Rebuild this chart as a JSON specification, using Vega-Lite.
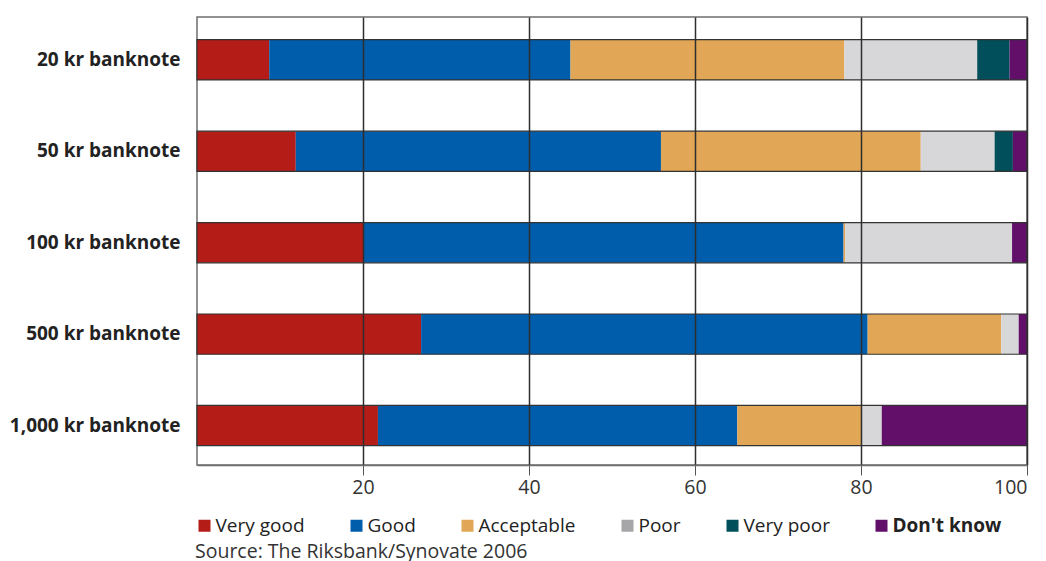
{
  "$schema": "https://vega.github.io/schema/vega-lite/v6.json",
  "width": 830,
  "height": 448,
  "autosize": {"type": "none"},
  "padding": {"left": 197, "top": 17, "right": 19, "bottom": 96},
  "background": "white",
  "config": {
    "font": "Open Sans",
    "view": {"stroke": "#6e6e6e", "strokeWidth": 1.5}
  },
  "data": {
    "values": [
      {"note": "20 kr banknote", "rating": "Very good", "k": 1, "value": 8.7},
      {"note": "20 kr banknote", "rating": "Good", "k": 2, "value": 36.3},
      {"note": "20 kr banknote", "rating": "Acceptable", "k": 3, "value": 33},
      {"note": "20 kr banknote", "rating": "Poor", "k": 4, "value": 16},
      {"note": "20 kr banknote", "rating": "Very poor", "k": 5, "value": 3.9},
      {"note": "20 kr banknote", "rating": "Don't know", "k": 6, "value": 2.1},
      {"note": "50 kr banknote", "rating": "Very good", "k": 1, "value": 11.9},
      {"note": "50 kr banknote", "rating": "Good", "k": 2, "value": 44},
      {"note": "50 kr banknote", "rating": "Acceptable", "k": 3, "value": 31.3},
      {"note": "50 kr banknote", "rating": "Poor", "k": 4, "value": 8.9},
      {"note": "50 kr banknote", "rating": "Very poor", "k": 5, "value": 2.2},
      {"note": "50 kr banknote", "rating": "Don't know", "k": 6, "value": 1.7},
      {"note": "100 kr banknote", "rating": "Very good", "k": 1, "value": 20},
      {"note": "100 kr banknote", "rating": "Good", "k": 2, "value": 57.9},
      {"note": "100 kr banknote", "rating": "Acceptable", "k": 3, "value": 0.2},
      {"note": "100 kr banknote", "rating": "Poor", "k": 4, "value": 20.1},
      {"note": "100 kr banknote", "rating": "Very poor", "k": 5, "value": 0},
      {"note": "100 kr banknote", "rating": "Don't know", "k": 6, "value": 1.8},
      {"note": "500 kr banknote", "rating": "Very good", "k": 1, "value": 27},
      {"note": "500 kr banknote", "rating": "Good", "k": 2, "value": 53.8},
      {"note": "500 kr banknote", "rating": "Acceptable", "k": 3, "value": 16.1},
      {"note": "500 kr banknote", "rating": "Poor", "k": 4, "value": 2.1},
      {"note": "500 kr banknote", "rating": "Very poor", "k": 5, "value": 0},
      {"note": "500 kr banknote", "rating": "Don't know", "k": 6, "value": 1},
      {"note": "1,000 kr banknote", "rating": "Very good", "k": 1, "value": 21.8},
      {"note": "1,000 kr banknote", "rating": "Good", "k": 2, "value": 43.3},
      {"note": "1,000 kr banknote", "rating": "Acceptable", "k": 3, "value": 15},
      {"note": "1,000 kr banknote", "rating": "Poor", "k": 4, "value": 2.4},
      {"note": "1,000 kr banknote", "rating": "Very poor", "k": 5, "value": 0},
      {"note": "1,000 kr banknote", "rating": "Don't know", "k": 6, "value": 17.5}
    ]
  },
  "encoding": {
    "y": {
      "field": "note",
      "type": "nominal",
      "sort": ["20 kr banknote", "50 kr banknote", "100 kr banknote", "500 kr banknote", "1,000 kr banknote"],
      "scale": {"paddingInner": 0.56, "paddingOuter": 0.23, "align": 0.54},
      "axis": {
        "title": null,
        "domain": false,
        "ticks": false,
        "labelPadding": 17,
        "labelFontSize": 19,
        "labelFontWeight": "bold",
        "labelColor": "#222222",
        "labelFont": "Open Sans"
      }
    }
  },
  "layer": [
    {
      "mark": {"type": "bar"},
      "encoding": {
        "x": {
          "field": "value",
          "type": "quantitative",
          "stack": "zero",
          "scale": {"domain": [0, 100], "nice": false},
          "axis": {
            "title": null,
            "values": [20, 40, 60, 80, 100],
            "grid": true,
            "gridColor": "#2e2e2e",
            "gridWidth": 1.5,
            "zindex": 1,
            "domain": true,
            "domainColor": "#6e6e6e",
            "domainWidth": 1.5,
            "tickColor": "#555555",
            "tickSize": 10,
            "tickWidth": 1,
            "labelPadding": 3,
            "labelFontSize": 19.5,
            "labelColor": "#333333",
            "labelFont": "Open Sans"
          }
        },
        "color": {
          "field": "rating",
          "type": "nominal",
          "scale": {
            "domain": ["Very good", "Good", "Acceptable", "Poor", "Very poor", "Don't know"],
            "range": ["#b31c17", "#005dab", "#e2a756", "#d7d7d9", "#004f5a", "#620f6a"]
          },
          "legend": null
        },
        "order": {"field": "k", "type": "quantitative"}
      }
    },
    {
      "mark": {"type": "bar", "fill": null, "fillOpacity": 0, "stroke": "#333333", "strokeWidth": 1.2},
      "encoding": {
        "x": {"aggregate": "sum", "field": "value", "type": "quantitative"}
      }
    },
    {
      "mark": {"type": "bar", "opacity": 0},
      "encoding": {
        "x": {"field": "value", "type": "quantitative", "stack": "zero"},
        "color": {
          "field": "rating",
          "type": "nominal",
          "scale": {
            "domain": ["Very good", "Good", "Acceptable", "Poor", "Very poor", "Don't know"],
            "range": ["#b31c17", "#005dab", "#e2a756", "#a6a6a9", "#004f5a", "#620f6a"]
          },
          "legend": {
            "orient": "none",
            "legendX": -2,
            "legendY": 499,
            "direction": "horizontal",
            "padding": 0,
            "symbolType": "square",
            "symbolSize": 144,
            "symbolStrokeWidth": 0,
            "symbolOpacity": 1,
            "labelOffset": 1.5,
            "labelFontSize": 19,
            "labelColor": "#222222",
            "labelFont": "Open Sans",
            "columnPadding": 42,
            "title": "Source: The Riksbank/Synovate 2006",
            "titleOrient": "bottom",
            "titleAnchor": "start",
            "titleLimit": 600,
            "titleFontSize": 19.5,
            "titleFontWeight": "normal",
            "titleColor": "#333333",
            "titleFont": "Open Sans",
            "titlePadding": 7,
            "encode": {
              "labels": {"update": {"fontWeight": {"signal": "indexof(datum.label, 'know') >= 0 ? 'bold' : 'normal'"}}}
            }
          }
        },
        "order": {"field": "k", "type": "quantitative"}
      }
    }
  ],
  "resolve": {"scale": {"color": "independent"}}
}
